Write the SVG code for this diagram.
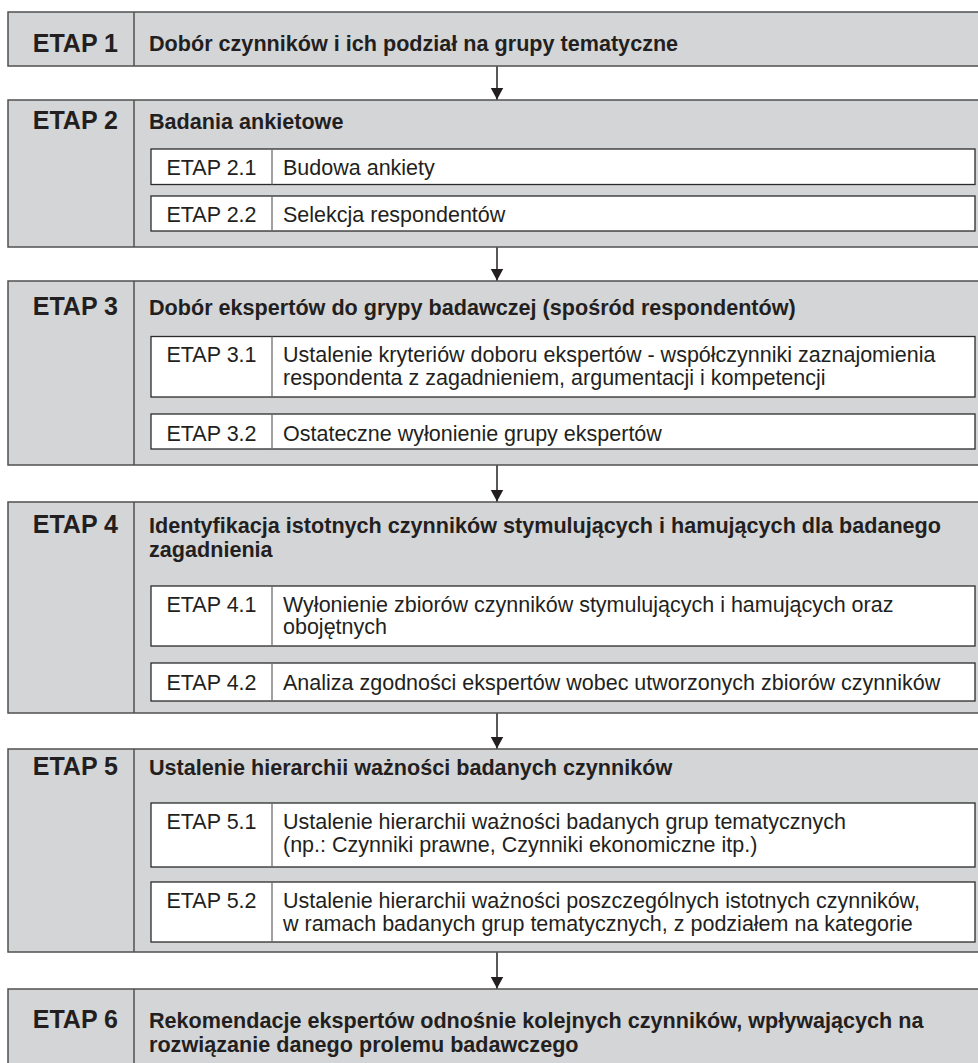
<svg xmlns="http://www.w3.org/2000/svg" width="978" height="1063" viewBox="0 0 978 1063">
<style>
.main{fill:#d4d5d7;stroke:#505050;stroke-width:1.5}
.div{stroke:#505050;stroke-width:1.5}
.sub{fill:#ffffff;stroke:#2b2b2b;stroke-width:1.3}
.sdiv{stroke:#6e6e6e;stroke-width:1.3}
.lbl{font-family:"Liberation Sans",Arial,sans-serif;font-weight:bold;font-size:25px;fill:#231f20;text-anchor:end}
.ttl{font-family:"Liberation Sans",Arial,sans-serif;font-weight:bold;font-size:21.6px;fill:#231f20}
.sl{font-family:"Liberation Sans",Arial,sans-serif;font-size:21.5px;fill:#231f20;text-anchor:middle}
.st{font-family:"Liberation Sans",Arial,sans-serif;font-size:21.5px;fill:#231f20}
.con{stroke:#231f20;stroke-width:1.5;fill:none}
</style>
<defs>
<marker id="ah" markerUnits="userSpaceOnUse" markerWidth="13" markerHeight="14" refX="12" refY="7" orient="auto" viewBox="0 0 13 14">
<path d="M0,0.5 L12,7 L0,13.5 Z" fill="#231f20"/>
</marker>
</defs>

<g id="etap1">
<rect class="main" x="8" y="12" width="990" height="54"/>
<line class="div" x1="134" y1="12" x2="134" y2="66"/>
<text class="lbl" x="118" y="51.5">ETAP 1</text>
<text class="ttl" x="149" y="51">Dobór czynników i ich podział na grupy tematyczne</text>
</g>

<g id="etap2">
<rect class="main" x="8" y="100" width="990" height="147"/>
<line class="div" x1="134" y1="100" x2="134" y2="247"/>
<text class="lbl" x="118" y="128.5">ETAP 2</text>
<text class="ttl" x="149" y="128.5">Badania ankietowe</text>
</g>
<g id="etap2_1">
<rect class="sub" x="151" y="149" width="824" height="35.5"/>
<line class="sdiv" x1="272" y1="149" x2="272" y2="184.5"/>
<text class="sl" x="211.5" y="175">ETAP 2.1</text>
<text class="st" x="283" y="175">Budowa ankiety</text>
</g>
<g id="etap2_2">
<rect class="sub" x="151" y="196" width="824" height="35"/>
<line class="sdiv" x1="272" y1="196" x2="272" y2="231"/>
<text class="sl" x="211.5" y="222">ETAP 2.2</text>
<text class="st" x="283" y="222">Selekcja respondentów</text>
</g>

<g id="etap3">
<rect class="main" x="8" y="281" width="990" height="184"/>
<line class="div" x1="134" y1="281" x2="134" y2="465"/>
<text class="lbl" x="118" y="315">ETAP 3</text>
<text class="ttl" x="149" y="315">Dobór ekspertów do grypy badawczej (spośród respondentów)</text>
</g>
<g id="etap3_1">
<rect class="sub" x="151" y="336.5" width="824" height="60.5"/>
<line class="sdiv" x1="272" y1="336.5" x2="272" y2="397"/>
<text class="sl" x="211.5" y="362">ETAP 3.1</text>
<text class="st" x="283" y="362">Ustalenie kryteriów doboru ekspertów - współczynniki zaznajomienia</text>
<text class="st" x="283" y="384.5">respondenta z zagadnieniem, argumentacji i kompetencji</text>
</g>
<g id="etap3_2">
<rect class="sub" x="151" y="414" width="824" height="35"/>
<line class="sdiv" x1="272" y1="414" x2="272" y2="449"/>
<text class="sl" x="211.5" y="440.5">ETAP 3.2</text>
<text class="st" x="283" y="440.5">Ostateczne wyłonienie grupy ekspertów</text>
</g>

<g id="etap4">
<rect class="main" x="8" y="502" width="990" height="211"/>
<line class="div" x1="134" y1="502" x2="134" y2="713"/>
<text class="lbl" x="118" y="533">ETAP 4</text>
<text class="ttl" x="149" y="533">Identyfikacja istotnych czynników stymulujących i hamujących dla badanego</text>
<text class="ttl" x="149" y="556.5">zagadnienia</text>
</g>
<g id="etap4_1">
<rect class="sub" x="151" y="586" width="824" height="60"/>
<line class="sdiv" x1="272" y1="586" x2="272" y2="646"/>
<text class="sl" x="211.5" y="611.5">ETAP 4.1</text>
<text class="st" x="283" y="611.5">Wyłonienie zbiorów czynników stymulujących i hamujących oraz</text>
<text class="st" x="283" y="634">obojętnych</text>
</g>
<g id="etap4_2">
<rect class="sub" x="151" y="663" width="824" height="38"/>
<line class="sdiv" x1="272" y1="663" x2="272" y2="701"/>
<text class="sl" x="211.5" y="690">ETAP 4.2</text>
<text class="st" x="283" y="690">Analiza zgodności ekspertów wobec utworzonych zbiorów czynników</text>
</g>

<g id="etap5">
<rect class="main" x="8" y="749" width="990" height="203"/>
<line class="div" x1="134" y1="749" x2="134" y2="952"/>
<text class="lbl" x="118" y="774.5">ETAP 5</text>
<text class="ttl" x="149" y="774.5">Ustalenie hierarchii ważności badanych czynników</text>
</g>
<g id="etap5_1">
<rect class="sub" x="151" y="803" width="824" height="64"/>
<line class="sdiv" x1="272" y1="803" x2="272" y2="867"/>
<text class="sl" x="211.5" y="829">ETAP 5.1</text>
<text class="st" x="283" y="829">Ustalenie hierarchii ważności badanych grup tematycznych</text>
<text class="st" x="283" y="851.5">(np.: Czynniki prawne, Czynniki ekonomiczne itp.)</text>
</g>
<g id="etap5_2">
<rect class="sub" x="151" y="882" width="824" height="60"/>
<line class="sdiv" x1="272" y1="882" x2="272" y2="942"/>
<text class="sl" x="211.5" y="908">ETAP 5.2</text>
<text class="st" x="283" y="908">Ustalenie hierarchii ważności poszczególnych istotnych czynników,</text>
<text class="st" x="283" y="930.5">w ramach badanych grup tematycznych, z podziałem na kategorie</text>
</g>

<g id="etap6">
<rect class="main" x="8" y="989" width="990" height="90"/>
<line class="div" x1="134" y1="989" x2="134" y2="1079"/>
<text class="lbl" x="118" y="1028">ETAP 6</text>
<text class="ttl" x="149" y="1028">Rekomendacje ekspertów odnośnie kolejnych czynników, wpływających na</text>
<text class="ttl" x="149" y="1051.5">rozwiązanie danego prolemu badawczego</text>
</g>

<g id="connectors">
<line class="con" x1="497" y1="66.5" x2="497" y2="99.5" marker-end="url(#ah)"/>
<line class="con" x1="497" y1="247.5" x2="497" y2="280.5" marker-end="url(#ah)"/>
<line class="con" x1="497" y1="465.5" x2="497" y2="501.5" marker-end="url(#ah)"/>
<line class="con" x1="497" y1="713.5" x2="497" y2="748.5" marker-end="url(#ah)"/>
<line class="con" x1="497" y1="952.5" x2="497" y2="988.5" marker-end="url(#ah)"/>
</g>
</svg>
